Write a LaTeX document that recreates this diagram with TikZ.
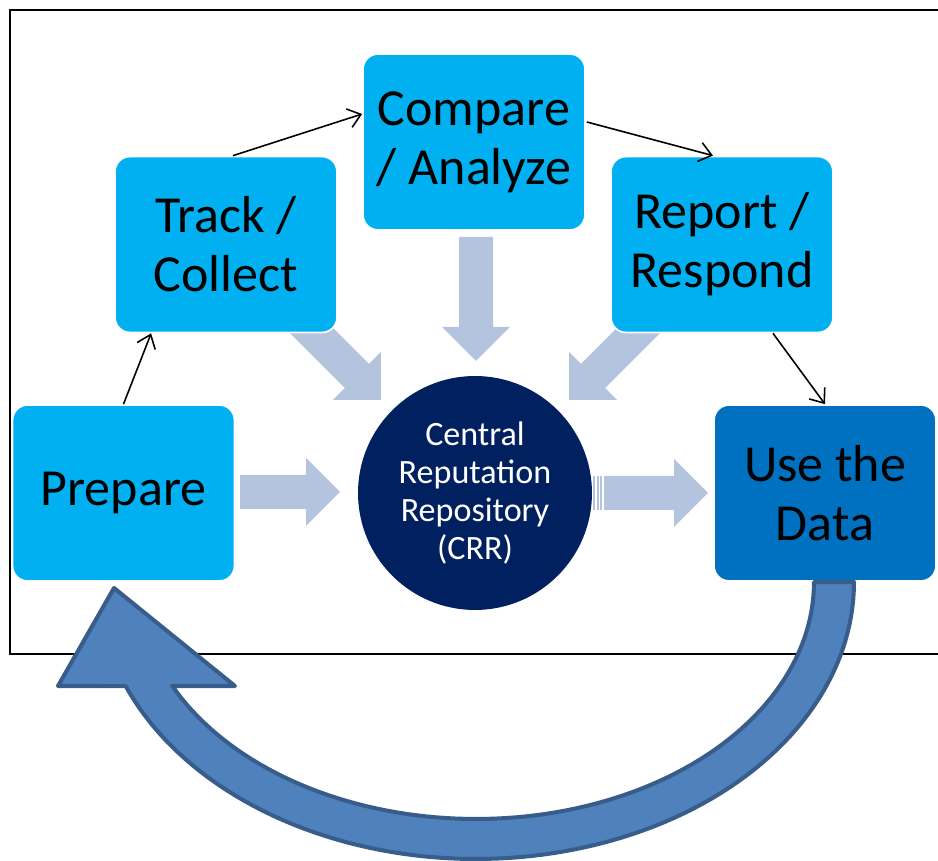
\documentclass[tikz,border=0pt]{standalone}
\usepackage{fontspec}
\setmainfont{Carlito}
\usetikzlibrary{arrows.meta,calc}
\definecolor{boxblue}{HTML}{00B0F0}
\definecolor{usedark}{HTML}{0070C0}
\definecolor{navy}{HTML}{002060}
\definecolor{bfill}{HTML}{B4C3DE}
\definecolor{cfill}{HTML}{4F81BD}
\definecolor{cline}{HTML}{385D8A}
\newcommand{\blockarr}[4]{%
  \fill[bfill, shift={(#1,#2)}, rotate=#3] (0,-17) -- (#4-34,-17) -- (#4-34,-34) -- (#4,0) -- (#4-34,34) -- (#4-34,17) -- (0,17) -- cycle;}
\begin{document}
\begin{tikzpicture}[x=0.02cm,y=0.02cm,
  stepbox/.style={draw=white, line width=1pt, fill=boxblue, rounded corners=0.3cm,
    minimum width=4.44cm, minimum height=3.52cm, inner sep=0pt, align=center,
    font=\fontsize{29.6}{33.5}\selectfont, text=black},
  conn/.style={line width=0.9pt, -{Straight Barb[length=7pt,width=11pt]}},
]
\useasboundingbox (0,0) rectangle (938,-861);
% frame
\draw[line width=1.2pt] (10,-10) rectangle (950,-654);
% block arrows
\blockarr{240}{-492}{0}{100}
\blockarr{604}{-493}{0}{104}
\fill[bfill] (593,-476) rectangle (595,-510);
\fill[bfill] (596.5,-476) rectangle (598.5,-510);
\fill[bfill] (600,-476) rectangle (602,-510);
\blockarr{476}{-237}{-90}{124}
\blockarr{289}{-308}{-45}{130}
\blockarr{661}{-308}{-135}{130}
% boxes
\node[stepbox] (prep) at (123.5,-493) {Prepare};
\node[stepbox] (track) at (226,-244.5) {Track /\\Collect};
\node[stepbox] (comp) at (474,-142) {Compare\\/ Analyze};
\node[stepbox] (rep) at (722,-244.5) {Report /\\Respond};
\node[stepbox, fill=usedark] (use) at (825,-493) {Use the\\Data};
\node[circle, fill=navy, minimum size=4.68cm, inner sep=0pt, align=center,
  text=white, font=\fontsize{19.4}{21.5}\selectfont] (crr) at (475,-493)
  {Central\\Reputation\\Repository\\(CRR)};
% connectors
\draw[conn] (prep.north) -- ($(track.south west)+(37,0)$);
\draw[conn] ($(track.north)+(7,0)$) -- ($(comp.west)+(0,28)$);
\draw[conn] ($(comp.east)+(1,20)$) -- ($(rep.north)+(-9,0)$);
\draw[conn] ($(rep.south)+(51,0)$) -- (use.north);
% curved return arrow
\draw[fill=cfill, draw=cline, line width=2.3pt, line join=round]
  plot[domain=0:157.94, samples=90] ({476+378*cos(\x)}, {-582-277*sin(\x)})
  -- (58,-686) -- (114,-588) -- (235,-686) -- (172,-686)
  -- plot[domain=153.97:0, samples=90] ({476+338*cos(\x)}, {-582-237*sin(\x)})
  -- cycle;
\end{tikzpicture}
\end{document}
